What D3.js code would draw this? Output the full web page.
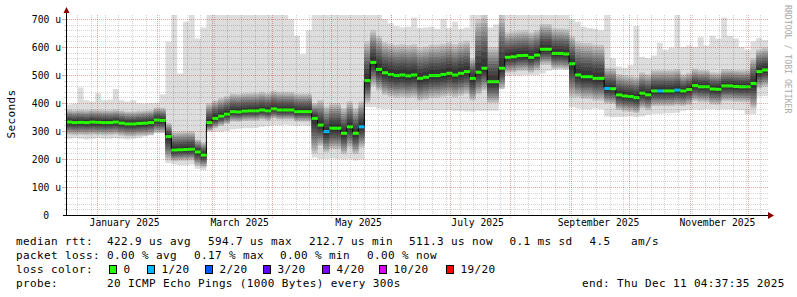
<!DOCTYPE html>
<html>
<head>
<meta charset="utf-8">
<script src="https://cdn.jsdelivr.net/npm/d3@7"></script>
<style>
body { margin: 0; background: #fff; }
text { font-family: "DejaVu Sans Mono", monospace; fill: #000; }
</style>
</head>
<body>
<script>
// smokeping style rtt graph, one year, 3 day consolidation steps
const endTime = new Date(Date.UTC(2025, 11, 11, 4, 37, 35));
const DAY = 864e5;
const spanDays = 360;
const stepDays = 3;

// median rtt per step (us)
const median = [
  332,330,331,330,332,331,330,330,332,328,
  325,325,327,328,330,339,338,280,232,233,
  234,235,225,214,330,345,353,360,369,368,
  371,372,372,375,372,379,375,375,375,369,
  369,369,345,321,298,310,310,292,315,292,
  315,480,545,520,508,502,498,500,497,500,
  488,492,498,498,502,506,500,506,512,488,
  510,524,476,476,524,563,565,569,570,563,
  571,592,592,577,577,575,540,500,494,494,
  488,488,452,451,429,425,423,419,435,429,
  443,443,443,443,446,443,448,462,458,458,
  450,449,461,461,459,458,458,470,512,518
];
// lost pings out of 20 per step
const loss = [
  0,0,0,0,0,0,0,0,0,0, 0,0,0,0,0,0,0,0,0,0,
  0,0,0,0,0,0,0,0,0,0, 0,0,0,0,0,0,0,0,0,0,
  0,0,0,0,1,0,0,0,0,0, 1,0,0,0,0,0,0,0,0,0,
  0,0,0,0,0,0,0,0,0,0, 0,0,0,0,0,0,0,0,0,0,
  0,0,0,0,0,0,0,0,0,0, 0,0,1,0,0,0,0,0,0,0,
  0,1,0,0,1,0,0,0,0,0, 0,0,0,0,0,0,0,0,0,0
];
// fastest / slowest ping per step (us)
const pingMin = [
  272,275,272,270,272,275,272,272,274,272,
  270,272,275,280,285,292,292,185,180,178,
  178,180,165,160,297,297,297,300,305,308,
  310,310,312,315,318,320,320,322,320,318,
  320,318,205,200,200,202,200,198,200,195,
  198,385,385,380,378,378,376,375,375,377,
  375,375,375,374,375,375,372,372,370,370,
  372,372,372,372,496,496,498,498,500,500,
  500,505,515,518,520,520,385,380,378,378,
  380,378,352,350,350,350,352,350,352,358,
  362,362,363,363,365,372,375,378,376,378,
  378,376,378,378,376,375,360,360,423,425
];
const pingMax = [
  395,398,455,410,405,435,410,412,450,410,
  405,410,400,398,400,402,430,620,715,505,
  690,715,630,670,715,715,715,715,715,715,
  715,715,715,715,715,715,715,715,700,640,
  575,660,715,715,715,715,715,715,715,715,
  715,715,715,715,700,685,675,670,672,705,
  668,670,672,665,700,668,690,665,670,715,
  715,715,670,680,715,715,715,715,715,715,
  715,715,715,715,715,715,700,690,672,668,
  665,660,715,560,530,525,535,675,565,560,
  570,615,590,598,715,600,605,600,635,605,
  640,630,705,640,630,600,590,620,632,625
];
// inner spread of the pings (roughly 10th / 90th percentile, us)
const q10 = [
  287,285,286,285,287,286,285,285,287,283,
  280,280,282,283,285,294,293,195,192,193,
  194,195,175,170,300,310,318,325,334,333,
  336,337,337,340,337,344,340,340,340,334,
  334,334,220,246,223,235,235,217,240,217,
  240,400,460,445,428,422,418,420,417,420,
  408,412,418,418,422,426,420,426,432,408,
  430,444,400,400,450,508,510,514,515,508,
  516,537,537,522,522,520,420,420,414,414,
  408,408,397,396,374,370,368,364,380,374,
  388,388,388,388,391,388,393,407,403,403,
  395,394,406,406,404,403,403,380,452,458
];
const q90 = [
  377,375,376,375,377,376,375,375,377,373,
  370,370,372,373,375,384,383,330,297,298,
  299,300,270,260,400,410,418,425,434,433,
  436,437,437,440,437,444,440,440,440,434,
  434,434,400,411,388,400,400,382,405,382,
  405,620,660,640,618,612,608,610,607,610,
  598,602,608,608,612,616,610,616,622,560,
  700,715,600,600,715,653,655,659,660,653,
  661,682,682,667,667,665,640,620,614,614,
  608,608,527,526,504,500,498,494,510,504,
  518,518,518,518,521,503,508,522,518,518,
  510,509,521,521,519,518,518,560,592,598
];

const yTicks = [0, 100, 200, 300, 400, 500, 600, 700];
const labelMonths = ["January 2025", "March 2025", "May 2025", "July 2025", "September 2025", "November 2025"];
const lossLabels = ["0", "1/20", "2/20", "3/20", "4/20", "10/20", "19/20"];
const lossSteps = [0, 1, 2, 3, 4, 10, 19];
const lossColors = ["#26ff00", "#00b8ff", "#0059ff", "#5e00ff", "#7e00ff", "#dd00ff", "#ff0000"];

const W = 797, H = 297;
const startTime = new Date(+endTime - spanDays * DAY);

const svg = d3.select("body").append("svg")
  .attr("width", W).attr("height", H)
  .style("display", "block");

const x = d3.scaleUtc().domain([startTime, endTime]).range([66, 768]);
const y = d3.scaleLinear().domain([0, 700]).range([215, 19]);

svg.append("defs").append("clipPath").attr("id", "plot")
  .append("rect").attr("x", 66).attr("y", 15).attr("width", 702).attr("height", 200);

// rows with a closing point at the end so the step curve covers the last bin
const rows = d3.range(median.length + 1).map(i => ({
  t: new Date(+startTime + i * stepDays * DAY),
  k: Math.min(i, median.length - 1)
}));

const g = svg.append("g").attr("clip-path", "url(#plot)");

const band = (lo, hi) => d3.area()
  .x(d => x(d.t))
  .y0(d => y(lo(d.k)))
  .y1(d => y(hi(d.k)))
  .curve(d3.curveStepAfter);

// outer smoke
g.append("path").datum(rows)
  .attr("fill", "#dddddd")
  .attr("d", band(k => pingMin[k], k => pingMax[k]));

// inner smoke, darker towards the median
const N = 10;
const shade = d3.interpolateRgb("#c6c6c6", "#363636");
for (let s = 0; s < N; s++) {
  const f = Math.pow(1 - s / N, 0.75);
  g.append("path").datum(rows)
    .attr("fill", shade(s / (N - 1)))
    .attr("d", band(k => median[k] - (median[k] - q10[k]) * f,
                    k => median[k] + (q90[k] - median[k]) * f));
}

// median
g.append("path").datum(rows)
  .attr("fill", "none").attr("stroke", "#000").attr("stroke-width", 1)
  .attr("d", d3.line().x(d => x(d.t)).y(d => y(median[d.k])).curve(d3.curveStepAfter));

const lossColor = v => {
  let c = lossColors[0];
  lossSteps.forEach((s, i) => { if (v >= s) c = lossColors[i]; });
  return c;
};

g.selectAll("rect.med").data(median)
  .enter().append("rect")
  .attr("class", "med")
  .attr("x", (d, i) => x(rows[i].t))
  .attr("width", (d, i) => x(rows[i + 1].t) - x(rows[i].t) + 0.3)
  .attr("y", d => y(d) - 1.5)
  .attr("height", 3)
  .attr("fill", (d, i) => lossColor(loss[i]));

// grid on top
const grid = svg.append("g");
const px = v => Math.round(v) + 0.5;
const minorCol = "rgba(0,0,0,0.17)";
const majorCol = "rgba(190,0,0,0.33)";

d3.range(20, 701, 20).forEach(v => {
  grid.append("line")
    .attr("x1", 67).attr("x2", 768)
    .attr("y1", px(y(v))).attr("y2", px(y(v)))
    .attr("stroke", v % 100 === 0 ? majorCol : minorCol)
    .attr("stroke-dasharray", "1,1");
  grid.append("line")
    .attr("x1", v % 100 === 0 ? 62 : 64).attr("x2", 66)
    .attr("y1", px(y(v))).attr("y2", px(y(v)))
    .attr("stroke", v % 100 === 0 ? majorCol : minorCol);
});

const weeks = d3.utcSunday.range(startTime, endTime);
const months = d3.utcMonth.range(startTime, endTime);
weeks.forEach(d => {
  grid.append("line")
    .attr("x1", px(x(d))).attr("x2", px(x(d)))
    .attr("y1", 15).attr("y2", 217)
    .attr("stroke", minorCol)
    .attr("stroke-dasharray", "1,1");
});
months.forEach(d => {
  grid.append("line")
    .attr("x1", px(x(d))).attr("x2", px(x(d)))
    .attr("y1", 15).attr("y2", 219)
    .attr("stroke", majorCol)
    .attr("stroke-dasharray", "1,1");
});

// axes
svg.append("line").attr("x1", 66.5).attr("x2", 66.5).attr("y1", 216).attr("y2", 10)
  .attr("stroke", "#000");
svg.append("line").attr("x1", 63).attr("x2", 770).attr("y1", 215.5).attr("y2", 215.5)
  .attr("stroke", "#000");
svg.append("path").attr("d", "M63.5,13L69.5,13L66.5,7Z").attr("fill", "#8b0000");
svg.append("path").attr("d", "M768,212L768,219L774,215.5Z").attr("fill", "#8b0000");

const yAxis = svg.append("g")
  .attr("transform", "translate(61,0)")
  .call(d3.axisLeft(y).tickValues(yTicks).tickSize(0).tickPadding(0)
    .tickFormat(d => d === 0 ? "0" : d + " u"));
yAxis.select(".domain").remove();
yAxis.selectAll("text")
  .style("font-family", "DejaVu Sans Mono, monospace")
  .style("font-size", "9.7px")
  .attr("fill", "#000")
  .attr("x", d => d === 0 ? -12 : 0);

const labelDates = labelMonths.map(s => {
  const d = d3.utcParse("%B %Y")(s);
  return new Date(Date.UTC(d.getUTCFullYear(), d.getUTCMonth(), 15));
});
const xAxis = svg.append("g")
  .attr("transform", "translate(0,215)")
  .call(d3.axisBottom(x).tickValues(labelDates).tickSize(0).tickPadding(4)
    .tickFormat((d, i) => labelMonths[i]));
xAxis.select(".domain").remove();
xAxis.selectAll("text")
  .style("font-family", "DejaVu Sans Mono, monospace")
  .style("font-size", "9.7px")
  .attr("fill", "#000");

svg.append("text")
  .attr("transform", "translate(15,114) rotate(-90)")
  .attr("text-anchor", "middle")
  .style("font-size", "11px")
  .style("letter-spacing", "0.35px")
  .text("Seconds");

svg.append("text")
  .attr("transform", "translate(785,5) rotate(90)")
  .style("font-size", "8.2px")
  .style("fill", "#aaaaaa")
  .text("RRDTOOL / TOBI OETIKER");

// legend
const legend = svg.append("g")
  .style("font-size", "11px")
  .style("letter-spacing", "0.37px");
const put = (xx, yy, s) => legend.append("text").attr("x", xx).attr("y", yy).text(s);

put(16, 245, "median rtt:");
put(107, 245, "422.9 us avg");
put(208, 245, "594.7 us max");
put(309, 245, "212.7 us min");
put(409, 245, "511.3 us now");
put(509.5, 245, "0.1 ms sd");
put(589.5, 245, "4.5");
put(631, 245, "am/s");

put(16, 259, "packet loss:");
put(107, 259, "0.00 % avg");
put(194, 259, "0.17 % max");
put(280, 259, "0.00 % min");
put(367, 259, "0.00 % now");

put(16, 273, "loss color:");
const sqX = [109, 146.7, 205, 263.3, 321.6, 379.3, 446.3];
lossLabels.forEach((s, i) => {
  legend.append("rect")
    .attr("x", Math.round(sqX[i]) + 0.5).attr("y", 265.5)
    .attr("width", 7).attr("height", 8)
    .attr("fill", lossColors[i]).attr("stroke", "#000");
  put(Math.round(sqX[i]) + 14.5, 273, s);
});

put(16, 287, "probe:");
put(107, 287, "20 ICMP Echo Pings (1000 Bytes) every 300s");
put(582, 287, "end: Thu Dec 11 04:37:35 2025");
</script>
</body>
</html>
